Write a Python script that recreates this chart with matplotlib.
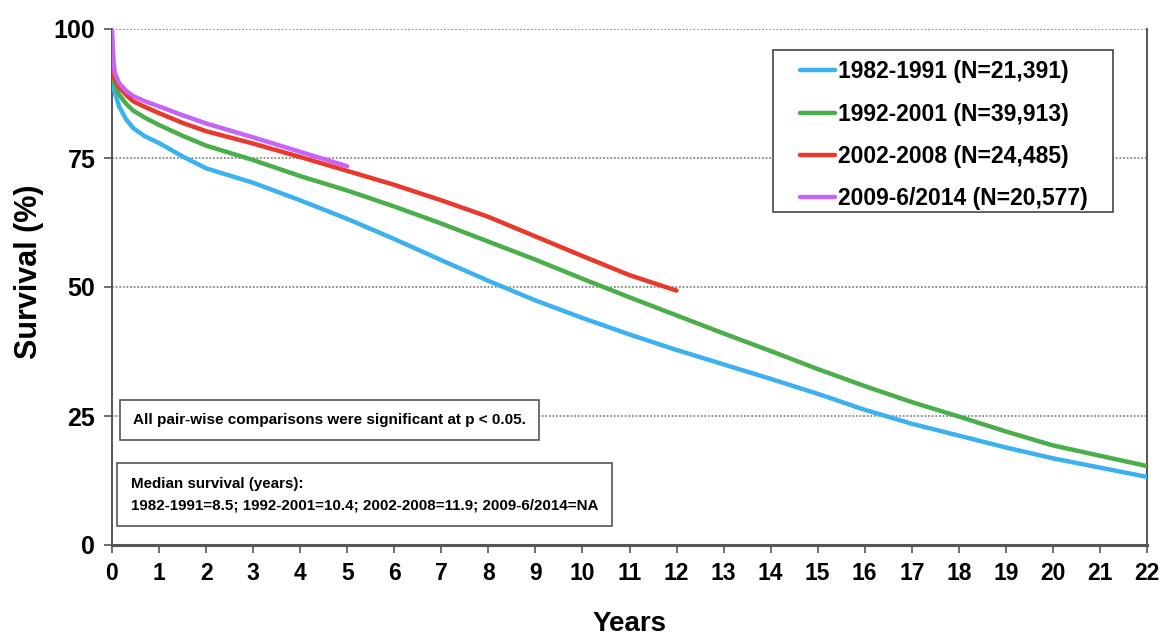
import matplotlib
matplotlib.use('Agg')
import matplotlib.pyplot as plt
from matplotlib.patches import Rectangle

plt.rcParams['font.family'] = ['Liberation Sans', 'DejaVu Sans']

# courbes de survie (annees, %)
t_8291 = [0, 0.05, 0.15, 0.3, 0.45, 0.7, 1, 1.5, 2, 3, 4, 5, 6, 7, 8, 9, 10, 11, 12, 13, 14, 15, 16, 17, 18, 19, 20, 21, 22]
s_8291 = [92, 88, 85, 82.5, 80.8, 79.2, 77.9, 75.3, 73.0, 70.2, 66.8, 63.2, 59.3, 55.2, 51.2, 47.4, 44.0, 40.8, 37.8, 35.0, 32.2, 29.3, 26.2, 23.5, 21.2, 18.9, 16.8, 15.0, 13.2]

t_9201 = [0, 0.05, 0.15, 0.3, 0.45, 0.7, 1, 1.5, 2, 3, 4, 5, 6, 7, 8, 9, 10, 11, 12, 13, 14, 15, 16, 17, 18, 19, 20, 21, 22]
s_9201 = [92, 89.5, 87.3, 85.5, 84.2, 82.8, 81.4, 79.3, 77.4, 74.6, 71.5, 68.7, 65.6, 62.3, 58.8, 55.3, 51.6, 48.0, 44.5, 41.0, 37.6, 34.1, 30.8, 27.7, 24.9, 22.0, 19.3, 17.3, 15.3]

t_0208 = [0, 0.05, 0.15, 0.3, 0.45, 0.7, 1, 1.5, 2, 3, 4, 5, 6, 7, 8, 9, 10, 11, 12]
s_0208 = [92.5, 90.5, 88.8, 87.2, 86.0, 84.9, 83.7, 81.8, 80.2, 77.8, 75.2, 72.5, 69.8, 66.8, 63.6, 59.8, 56.0, 52.3, 49.3]

t_0914 = [0, 0.03, 0.06, 0.15, 0.3, 0.45, 0.7, 1, 1.5, 2, 3, 4, 5]
s_0914 = [100, 94, 91.5, 89.5, 88.0, 87.0, 86.0, 85.0, 83.3, 81.7, 79.0, 76.2, 73.4]

noms = ['1982-1991 (N=21,391)', '1992-2001 (N=39,913)', '2002-2008 (N=24,485)', '2009-6/2014 (N=20,577)']
couleurs = ['#3bb1f2', '#4aae4a', '#e8392c', '#c764f5']

fig = plt.figure(figsize=(11.67, 6.37), dpi=100)
ax = fig.add_axes([112/1167., 1-545/637., (1147-112)/1167., (545-29)/637.])

ax.plot(t_8291, s_8291, color=couleurs[0], lw=3.2, label=noms[0], solid_capstyle='round', zorder=3)
ax.plot(t_9201, s_9201, color=couleurs[1], lw=3.2, label=noms[1], solid_capstyle='round', zorder=3)
ax.plot(t_0208, s_0208, color=couleurs[2], lw=3.2, label=noms[2], solid_capstyle='round', zorder=3)
ax.plot(t_0914, s_0914, color=couleurs[3], lw=3.2, label=noms[3], solid_capstyle='round', zorder=3)

ax.set_xlim(0, 22)
ax.set_ylim(0, 100)
ax.set_xticks(range(0, 23))
ax.set_yticks([0, 25, 50, 75, 100])
for y in [25, 50, 75, 100]:
    ax.axhline(y, color='#888888', lw=1.3, ls=(0, (1, 1)), zorder=1)

ax.spines['top'].set_visible(False)
for cote in ['left', 'right', 'bottom']:
    ax.spines[cote].set_color('#555555')
    ax.spines[cote].set_linewidth(1.4)
ax.spines['bottom'].set_linewidth(2.2)
ax.tick_params(axis='both', direction='out', length=6, width=1.2, color='#555555')
ax.tick_params(axis='x', labelsize=16.5, pad=6)
ax.tick_params(axis='y', labelsize=18, pad=6)
for lab in ax.get_xticklabels() + ax.get_yticklabels():
    lab.set_fontweight('bold')

ax.set_xlabel('Years', fontsize=20, fontweight='bold')
ax.xaxis.set_label_coords(0.5, -0.127)
ax.set_ylabel('Survival (%)', fontsize=22, fontweight='bold')
ax.yaxis.set_label_coords(-0.066, 0.53)

# cadre de la legende (plus large a gauche que la marge de matplotlib)
ax.add_patch(Rectangle((0.6386, 0.645), 0.3285, 0.314, transform=ax.transAxes, fc='white',
                       ec='#444444', lw=1.2, zorder=4))
leg = ax.legend(loc='upper left', bbox_to_anchor=(0.6647, 0.939), fontsize=16.5, frameon=False,
                handlelength=1.55, handletextpad=0.1, borderpad=0, labelspacing=0.84, borderaxespad=0)
leg.set_zorder(5)
for txt in leg.get_texts():
    txt.set_fontweight('bold')

ax.text(0.45, 24.2, 'All pair-wise comparisons were significant at p < 0.05.', fontsize=11.0, fontweight='bold',
        va='center', ha='left', zorder=4,
        bbox=dict(boxstyle='square,pad=0.85', fc='white', ec='#555555', lw=1.2))
ax.text(0.4, 9.8, 'Median survival (years):\n1982-1991=8.5; 1992-2001=10.4; 2002-2008=11.9; 2009-6/2014=NA',
        fontsize=10.9, fontweight='bold', va='center', ha='left', linespacing=1.7, zorder=4,
        bbox=dict(boxstyle='square,pad=0.9', fc='white', ec='#555555', lw=1.2))

fig.savefig('out.png', dpi=100)
